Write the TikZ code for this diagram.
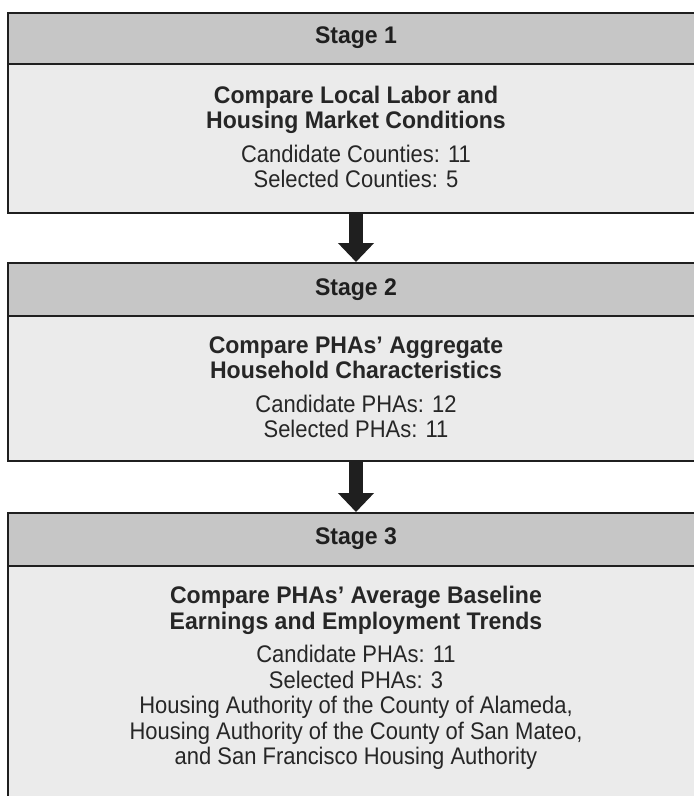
\documentclass[tikz,border=0pt]{standalone}
\usepackage{fontspec}
\setmainfont{Liberation Sans}
\newfontfamily\condsans[FakeStretch=0.915]{Liberation Sans}
\newfontfamily\condbold[FakeStretch=0.96]{Liberation Sans}
\usetikzlibrary{arrows.meta}
\definecolor{hdrgray}{HTML}{C6C6C6}
\definecolor{bodygray}{HTML}{EBEBEB}
\definecolor{edge}{HTML}{1F1F1F}
\tikzset{
  hdrbox/.style={draw=edge, line width=2.4pt, fill=hdrgray, minimum width=700pt, anchor=north west, inner sep=0pt},
  bodybox/.style={draw=edge, line width=2.4pt, fill=bodygray, minimum width=700pt, anchor=north west, inner sep=0pt},
  hdrtext/.style={font=\condbold\fontsize{24}{25}\selectfont\bfseries, text=black!88, inner sep=0pt},
  bodytext/.style={align=center, text=black!85, inner sep=0pt, font=\condsans\fontsize{24}{25.5}\selectfont},
  flowarrow/.style={draw=edge, line width=14pt, -{Triangle[width=35pt,length=19pt]}, shorten <=-1pt},
}
\newcommand{\ttl}[1]{{\condbold\fontsize{24}{25}\selectfont\bfseries #1}}
\begin{document}
\begin{tikzpicture}[x=1pt,y=1pt]
\useasboundingbox (0,0) rectangle (694,-796);
\fill[white] (0,0) rectangle (694,-796);
% Stage 1
\node[bodybox, minimum height=149pt] (b1) at (7,-63) {};
\node[hdrbox, minimum height=51pt] (h1) at (7,-12) {};
\node[hdrtext] (t1) at (356,-38) {Stage 1};
\node[bodytext] (c1) at (356,-137) {\ttl{Compare Local Labor and}\\\ttl{Housing Market Conditions}\\[8pt]Candidate Counties: 11\\Selected Counties: 5};
% Stage 2
\node[bodybox, minimum height=145pt] (b2) at (7,-315) {};
\node[hdrbox, minimum height=53pt] (h2) at (7,-262) {};
\node[hdrtext] (t2) at (356,-290) {Stage 2};
\node[bodytext] (c2) at (356,-387) {\ttl{Compare PHAs’ Aggregate}\\\ttl{Household Characteristics}\\[8pt]Candidate PHAs: 12\\Selected PHAs: 11};
% Stage 3
\node[bodybox, minimum height=260pt] (b3) at (7,-565) {};
\node[hdrbox, minimum height=53pt] (h3) at (7,-512) {};
\node[hdrtext] (t3) at (356,-539) {Stage 3};
\node[bodytext] (c3) at (356,-678) {\ttl{Compare PHAs’ Average Baseline}\\\ttl{Earnings and Employment Trends}\\[8pt]Candidate PHAs: 11\\Selected PHAs: 3\\Housing Authority of the County of Alameda,\\Housing Authority of the County of San Mateo,\\and San Francisco Housing Authority};
% arrows
\draw[flowarrow] (b1.south -| t1) -- (h2.north -| t1);
\draw[flowarrow] (b2.south -| t2) -- (h3.north -| t2);
\end{tikzpicture}
\end{document}
